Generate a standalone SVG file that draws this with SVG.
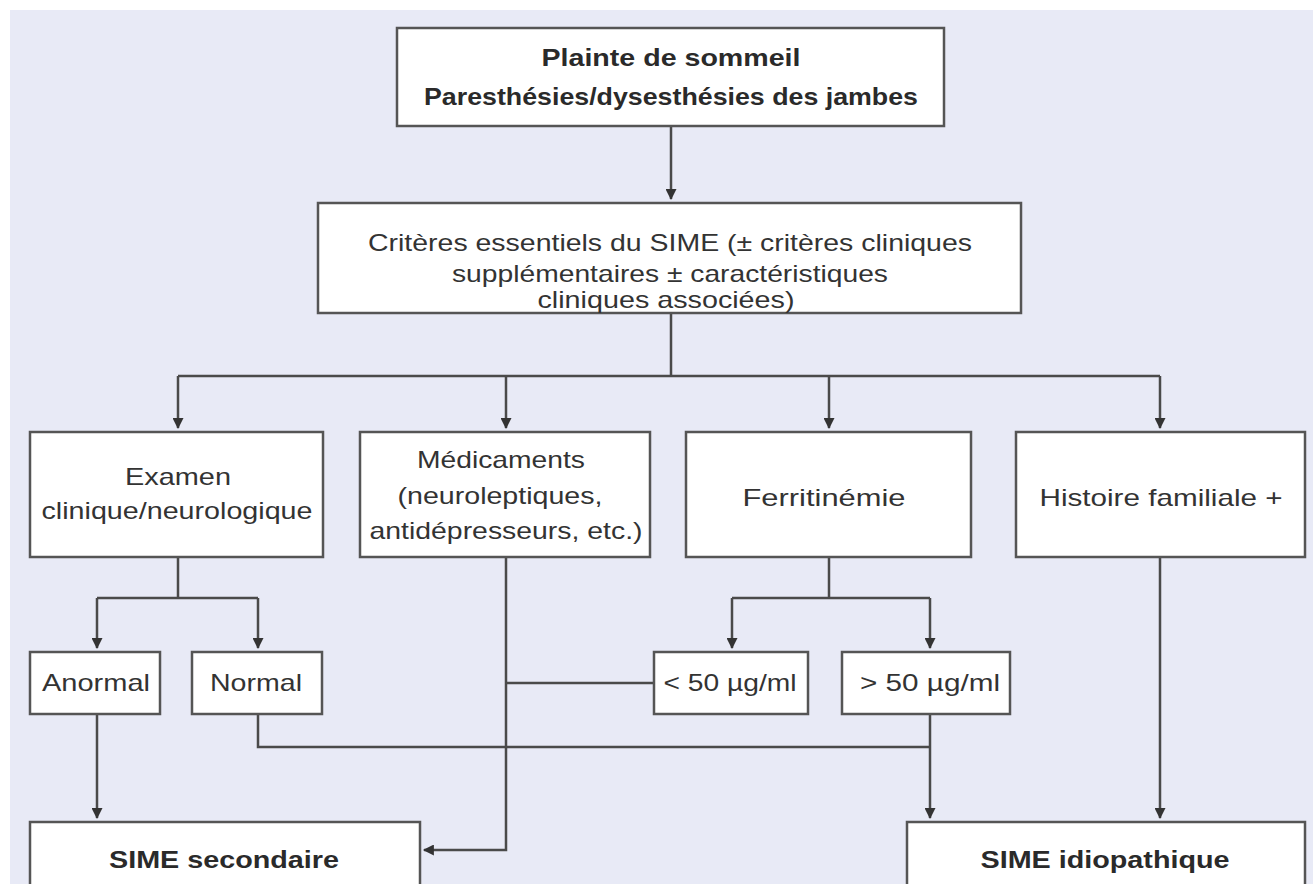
<svg xmlns="http://www.w3.org/2000/svg" width="1313" height="884" viewBox="0 0 1313 884">
<style>
.box{fill:#ffffff;stroke:#555555;stroke-width:2.5}
.t{font-family:"Liberation Sans",Arial,sans-serif;font-size:24px;fill:#333333;text-anchor:middle}
.b{font-weight:bold;fill:#2a2a2a}
.c{fill:none;stroke:#4a4a4a;stroke-width:2.5}
.a{marker-end:url(#arr)}
</style>
<defs>
<marker id="arr" viewBox="0 0 10 10" refX="9" refY="5" markerWidth="14" markerHeight="11" markerUnits="userSpaceOnUse" orient="auto">
<path d="M0,0 L10,5 L0,10 z" fill="#333333"/>
</marker>
</defs>
<rect x="0" y="0" width="1313" height="884" fill="#ffffff"/>
<rect x="10" y="10" width="1303" height="874" fill="#E8EAF6"/>

<g id="connectors">
<path class="c a" d="M671 126 V199"/>
<path class="c" d="M671 313 V376 M178 376 H1160"/>
<path class="c a" d="M178 376 V428"/>
<path class="c a" d="M506 376 V428"/>
<path class="c a" d="M829 376 V428"/>
<path class="c a" d="M1160 376 V428"/>
<path class="c" d="M178 557 V598 M97 598 H258"/>
<path class="c a" d="M97 598 V648"/>
<path class="c a" d="M258 598 V648"/>
<path class="c a" d="M97 714 V818"/>
<path class="c" d="M258 714 V747 H930"/>
<path class="c a" d="M930 714 V818"/>
<path class="c a" d="M506 557 V850 H424"/>
<path class="c" d="M506 683 H654"/>
<path class="c" d="M829 557 V598 M732 598 H930"/>
<path class="c a" d="M732 598 V648"/>
<path class="c a" d="M930 598 V648"/>
<path class="c a" d="M1160 557 V818"/>
</g>

<g id="plainte">
<rect class="box" x="397" y="28" width="547" height="98"/>
<text class="t b" x="671" y="66" textLength="259" lengthAdjust="spacingAndGlyphs">Plainte de sommeil</text>
<text class="t b" x="671" y="105" textLength="494" lengthAdjust="spacingAndGlyphs">Paresthésies/dysesthésies des jambes</text>
</g>

<g id="criteres">
<rect class="box" x="318" y="203" width="703" height="110"/>
<text class="t" x="670" y="251" textLength="604" lengthAdjust="spacingAndGlyphs">Critères essentiels du SIME (± critères cliniques</text>
<text class="t" x="670" y="282" textLength="436" lengthAdjust="spacingAndGlyphs">supplémentaires ± caractéristiques</text>
<text class="t" x="666" y="308" textLength="257" lengthAdjust="spacingAndGlyphs">cliniques associées)</text>
</g>

<g id="examen">
<rect class="box" x="30" y="432" width="293" height="125"/>
<text class="t" x="178" y="485" textLength="106" lengthAdjust="spacingAndGlyphs">Examen</text>
<text class="t" x="177" y="519" textLength="271" lengthAdjust="spacingAndGlyphs">clinique/neurologique</text>
</g>

<g id="medicaments">
<rect class="box" x="360" y="432" width="290" height="125"/>
<text class="t" x="501" y="468" textLength="168" lengthAdjust="spacingAndGlyphs">Médicaments</text>
<text class="t" x="500" y="504" textLength="205" lengthAdjust="spacingAndGlyphs">(neuroleptiques,</text>
<text class="t" x="506" y="539" textLength="273" lengthAdjust="spacingAndGlyphs">antidépresseurs, etc.)</text>
</g>

<g id="ferritinemie">
<rect class="box" x="686" y="432" width="285" height="125"/>
<text class="t" x="824" y="506" textLength="163" lengthAdjust="spacingAndGlyphs">Ferritinémie</text>
</g>

<g id="histoire">
<rect class="box" x="1016" y="432" width="289" height="125"/>
<text class="t" x="1161" y="506" textLength="243" lengthAdjust="spacingAndGlyphs">Histoire familiale +</text>
</g>

<g id="anormal">
<rect class="box" x="30" y="652" width="130" height="62"/>
<text class="t" x="96" y="691" textLength="108" lengthAdjust="spacingAndGlyphs">Anormal</text>
</g>

<g id="normal">
<rect class="box" x="192" y="652" width="130" height="62"/>
<text class="t" x="256" y="691" textLength="92" lengthAdjust="spacingAndGlyphs">Normal</text>
</g>

<g id="lt50">
<rect class="box" x="654" y="652" width="154" height="62"/>
<text class="t" x="730" y="691" textLength="133" lengthAdjust="spacingAndGlyphs">&lt; 50 µg/ml</text>
</g>

<g id="gt50">
<rect class="box" x="842" y="652" width="168" height="62"/>
<text class="t" x="930" y="691" textLength="140" lengthAdjust="spacingAndGlyphs">&gt; 50 µg/ml</text>
</g>

<g id="secondaire">
<rect class="box" x="30" y="822" width="390" height="80"/>
<text class="t b" x="224" y="868" textLength="230" lengthAdjust="spacingAndGlyphs">SIME secondaire</text>
</g>

<g id="idiopathique">
<rect class="box" x="907" y="822" width="398" height="80"/>
<text class="t b" x="1105" y="868" textLength="249" lengthAdjust="spacingAndGlyphs">SIME idiopathique</text>
</g>
</svg>
